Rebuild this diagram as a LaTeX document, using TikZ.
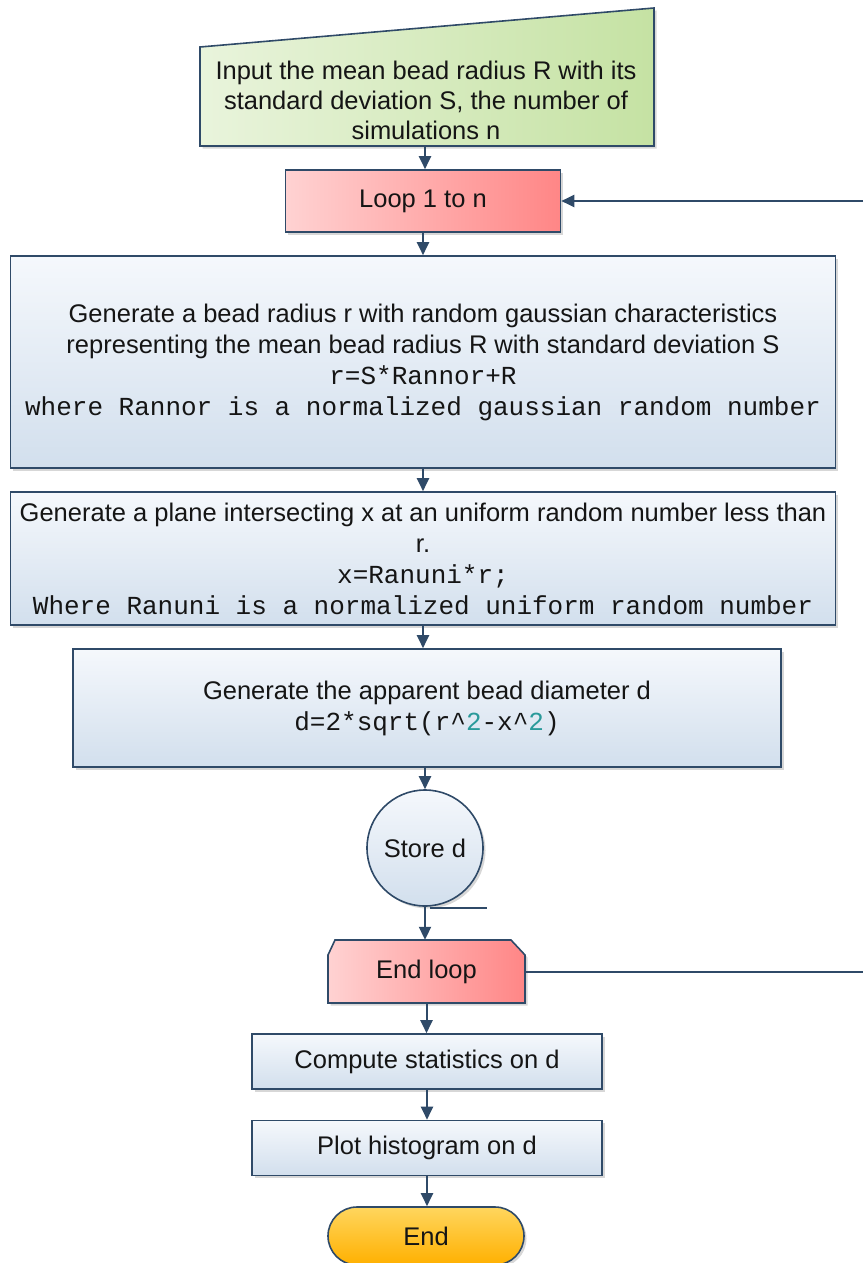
\documentclass[tikz,border=0pt]{standalone}
\usepackage{fontspec}
\setmainfont{Liberation Sans}
\setmonofont{Liberation Mono}
\usetikzlibrary{arrows.meta,shapes.misc,shadows}
\definecolor{edge}{HTML}{2F4A68}
\definecolor{bluetop}{HTML}{F5F8FC}
\definecolor{bluebot}{HTML}{D2DFED}
\definecolor{pinkl}{HTML}{FFD2D2}
\definecolor{pinkr}{HTML}{FF8686}
\definecolor{greenl}{HTML}{E9F4DC}
\definecolor{greenr}{HTML}{C5E2A3}
\definecolor{orgtop}{HTML}{FFD65E}
\definecolor{orgbot}{HTML}{FFB000}
\definecolor{tl}{HTML}{2A9A9A}
\definecolor{txt}{HTML}{151515}
\begin{document}
\begin{tikzpicture}[x=1pt,y=-1pt,
  font=\fontsize{25.5}{30}\selectfont,
  shad/.style={drop shadow={shadow xshift=2.5pt,shadow yshift=-2.5pt,opacity=0.35,fill=black!45}},
  bluebox/.style={draw=edge,line width=1.6pt,top color=bluetop,bottom color=bluebot,shad,
    align=center,inner sep=0pt,text=txt,font=\fontsize{25.5}{31}\selectfont},
  pinkbox/.style={draw=edge,line width=1.6pt,left color=pinkl,right color=pinkr,shad,
    align=center,inner sep=0pt,text=txt},
  arr/.style={draw=edge,line width=2pt,-{Triangle[length=13pt,width=12pt]}},
  ln/.style={draw=edge,line width=2pt}]
\useasboundingbox (0,0) rectangle (863,1263);

% input (manual input shape)
\fill[black!45,opacity=0.35] (202.5,49.5) -- (656.5,10.5) -- (656.5,148.5) -- (202.5,148.5) -- cycle;
\path[draw=edge,line width=1.6pt,left color=greenl,right color=greenr]
  (200,47) -- (654,8) -- (654,146) -- (200,146) -- cycle;
\node[align=center,text=txt] (inp) at (426,100)
  {Input the mean bead radius R with its\\standard deviation S, the number of\\simulations n};
\coordinate (inpS) at (425,146);

\node[pinkbox,minimum width=275pt,minimum height=62pt] (loop) at (423,201) {Loop 1 to n};

\node[bluebox,minimum width=825pt,minimum height=212pt] (g1) at (423,362)
  {Generate a bead radius r with random gaussian characteristics\\
   representing the mean bead radius R with standard deviation S\\
   {\ttfamily\fontsize{26}{31}\selectfont r=S*Rannor+R}\\
   {\ttfamily\fontsize{26}{31}\selectfont where Rannor is a normalized gaussian random number}};

\node[bluebox,minimum width=825pt,minimum height=133pt] (g2) at (423,558.5)
  {Generate a plane intersecting x at an uniform random number less than\\
   r.\\
   {\ttfamily\fontsize{26}{31}\selectfont x=Ranuni*r;}\\
   {\ttfamily\fontsize{26}{31}\selectfont Where Ranuni is a normalized uniform random number}};

\node[bluebox,minimum width=708pt,minimum height=118pt] (g3) at (427,708)
  {Generate the apparent bead diameter d\\
   {\ttfamily\fontsize{26}{31}\selectfont d=2*sqrt(r\textasciicircum\textcolor{tl}{2}-x\textasciicircum\textcolor{tl}{2})}};

\node[circle,draw=edge,line width=1.6pt,top color=bluetop,bottom color=bluebot,shad,
  minimum size=116pt,inner sep=0pt,text=txt] (store) at (425,848) {Store d};
\coordinate (sa) at (430,908);
\coordinate (sb) at (487,908);
\draw[ln,line width=1.6pt] (sa) -- (sb);

% end loop (chamfered top corners)
\fill[black!45,opacity=0.35] (337.5,942.5) -- (513.5,942.5) -- (527.5,957.5) -- (527.5,1005.5) -- (330.5,1005.5) -- (330.5,957.5) -- cycle;
\path[draw=edge,line width=1.6pt,left color=pinkl,right color=pinkr]
  (335,940) -- (511,940) -- (525,955) -- (525,1003) -- (328,1003) -- (328,955) -- cycle;
\node[minimum width=197pt,minimum height=63pt,inner sep=0pt,text=txt] (endloop) at (426.5,971.5) {End loop};

\node[bluebox,font=\fontsize{25.5}{30}\selectfont,minimum width=350pt,minimum height=55pt] (comp) at (427,1061.5) {Compute statistics on d};
\node[bluebox,font=\fontsize{25.5}{30}\selectfont,minimum width=350pt,minimum height=55pt] (plot) at (427,1148) {Plot histogram on d};
\node[rounded rectangle,draw=edge,line width=1.6pt,top color=orgtop,bottom color=orgbot,shad,
  minimum width=196pt,minimum height=58pt,inner sep=0pt,text=txt] (end) at (426,1236) {End};

\coordinate (loopR) at (863,201);
\coordinate (elR) at (863,971.5);

\draw[arr] (inpS) -- (inpS |- loop.north);
\draw[arr] (loopR) -- (loop.east);
\draw[arr] (loop.south) -- (loop.south |- g1.north);
\draw[arr] (g1.south) -- (g1.south |- g2.north);
\draw[arr] (g2.south) -- (g2.south |- g3.north);
\draw[arr] (g3.south -| store.north) -- (store.north);
\draw[arr] (store.south) -- (store.south |- endloop.north);
\draw[ln] (endloop.east) -- (elR);
\draw[arr] (endloop.south) -- (endloop.south |- comp.north);
\draw[arr] (comp.south) -- (plot.north);
\draw[arr] (plot.south) -- (plot.south |- end.north);
\end{tikzpicture}
\end{document}
